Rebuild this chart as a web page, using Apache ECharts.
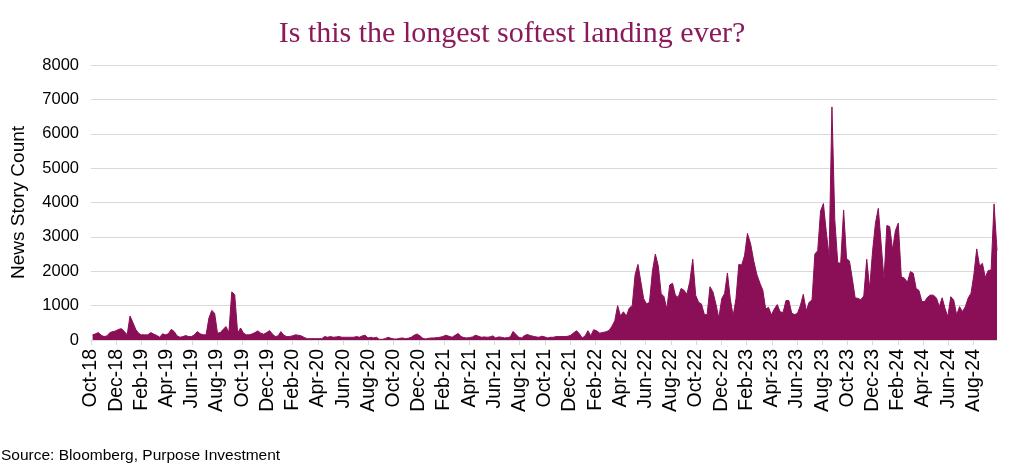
<!DOCTYPE html>
<html><head><meta charset="utf-8">
<script src="https://cdn.jsdelivr.net/npm/echarts@6/dist/echarts.min.js"></script>
<style>html,body{margin:0;padding:0;background:#fff}#c{width:1024px;height:473px}</style>
</head><body><div id="c"></div>
<script>
// Weekly news story count, first week ending 2018-10-05
const firstWeek = [2018, 9, 5]; // year, month index (0-based), day
const tickLabels = ['Oct-18','Dec-18','Feb-19','Apr-19','Jun-19','Aug-19','Oct-19','Dec-19',
  'Feb-20','Apr-20','Jun-20','Aug-20','Oct-20','Dec-20','Feb-21','Apr-21','Jun-21','Aug-21',
  'Oct-21','Dec-21','Feb-22','Apr-22','Jun-22','Aug-22','Oct-22','Dec-22','Feb-23','Apr-23',
  'Jun-23','Aug-23','Oct-23','Dec-23','Feb-24','Apr-24','Jun-24','Aug-24'];

const stories2018 = [150,180,215,140,100,120,215,245,265,310,330,245,150];
const stories2019 = [700,510,310,195,150,150,150,215,165,130,80,180,150,180,310,245,120,80,100,130,
  100,100,150,245,180,150,150,640,860,780,200,215,310,390,215,1400,1320,200,350,200,150,150,175,215,
  265,200,170,215,275,175,100,120];
const stories2020 = [245,140,100,100,120,150,140,120,70,40,40,40,40,40,40,100,80,100,80,90,100,80,80,80,
  80,80,100,80,120,140,60,80,60,80,20,20,40,80,50,30,30,50,60,40,50,80,140,175,120,50,30,50];
const stories2021 = [60,60,70,80,100,140,110,80,140,190,100,70,60,70,90,140,110,80,90,80,90,120,60,90,
  80,60,70,90,250,160,80,60,130,160,130,110,90,80,110,90,60,80,80,100,100,100,100,110,140,210,270,180,60];
const stories2022 = [120,270,120,300,270,200,220,240,280,400,560,1000,700,820,700,930,1000,1900,2200,
  1700,1200,1050,1100,2000,2500,2150,1350,1260,900,1600,1650,1300,1240,1500,1450,1330,1700,2350,1300,
  1100,1050,750,730,1550,1400,1050,640,1200,1350,1950,1200,700];
const stories2023 = [1200,2200,2180,2450,3100,2800,2300,1900,1650,1450,900,950,730,900,1030,820,800,1150,
  1150,780,740,770,1000,1330,850,1100,1160,2500,2600,3750,3970,3150,2420,6780,3500,2250,2230,3780,2370,
  2300,1790,1230,1210,1170,1280,2350,1500,2600,3400,3830,2800,1750];
const stories2024 = [3330,3300,2620,3180,3400,1840,1800,1680,1990,1940,1500,1440,1120,1120,1250,1310,1300,
  1220,970,1230,920,680,1260,1160,730,970,825,970,1220,1360,1900,2650,2150,2230,1820,2020,2040,3960,2600];

const values = [].concat(stories2018, stories2019, stories2020, stories2021, stories2022, stories2023, stories2024);
const DAY = 86400000;
const t0 = Date.UTC(firstWeek[0], firstWeek[1], firstWeek[2]);
// x position = months elapsed since 1 Oct 2018
const points = values.map((v, i) => {
  const d = new Date(t0 + i * 7 * DAY);
  const y = d.getUTCFullYear(), m = d.getUTCMonth(), day = d.getUTCDate();
  const dim = new Date(Date.UTC(y, m + 1, 0)).getUTCDate();
  return [(y - 2018) * 12 + m - 9 + (day - 1) / dim, v];
});
const xMax = points[points.length - 1][0];
const tickValues = tickLabels.map((_, k) => 2 * k);

const FILL = '#8A0F56';
const chart = echarts.init(document.getElementById('c'), null, {renderer: 'canvas'});
chart.setOption({
  animation: false,
  backgroundColor: '#ffffff',
  title: {
    text: 'Is this the longest softest landing ever?',
    left: 'center', top: 14,
    textStyle: {fontFamily: 'Liberation Serif', fontSize: 30, fontWeight: 'normal', color: '#8B1A5B'}
  },
  grid: {left: 91, right: 27, top: 65, bottom: 133, containLabel: false},
  xAxis: {
    type: 'value', min: 0, max: xMax, interval: 2,
    axisLine: {show: true, lineStyle: {color: '#d9d9d9', width: 1}},
    axisTick: {show: true, length: 5, lineStyle: {color: '#d9d9d9'}, customValues: tickValues},
    splitLine: {show: false},
    axisLabel: {
      rotate: 90, margin: 9, fontSize: 19.5, fontFamily: 'Liberation Sans', color: '#000',
      customValues: tickValues,
      formatter: v => {
        const k = Math.round(v / 2);
        return Math.abs(v - 2 * k) < 1e-6 && tickLabels[k] ? tickLabels[k] : '';
      }
    }
  },
  yAxis: {
    type: 'value', min: 0, max: 8000, interval: 1000,
    name: 'News Story Count', nameLocation: 'middle', nameGap: 63,
    nameTextStyle: {fontSize: 19, fontFamily: 'Liberation Sans', color: '#000'},
    axisLine: {show: false}, axisTick: {show: false},
    axisLabel: {fontSize: 16.5, fontFamily: 'Liberation Sans', color: '#000', margin: 12,
      formatter: v => String(v)},
    splitLine: {lineStyle: {color: '#d9d9d9', width: 1}}
  },
  series: [{
    type: 'line', data: points, symbol: 'none', smooth: false,
    lineStyle: {color: FILL, width: 1},
    areaStyle: {color: FILL, opacity: 1},
    itemStyle: {color: FILL}
  }],
  graphic: [{
    type: 'text', left: 1, top: 448,
    style: {text: 'Source: Bloomberg, Purpose Investment', fontSize: 15.5, fontFamily: 'Liberation Sans', fill: '#000'}
  }]
});
</script>
</body></html>
